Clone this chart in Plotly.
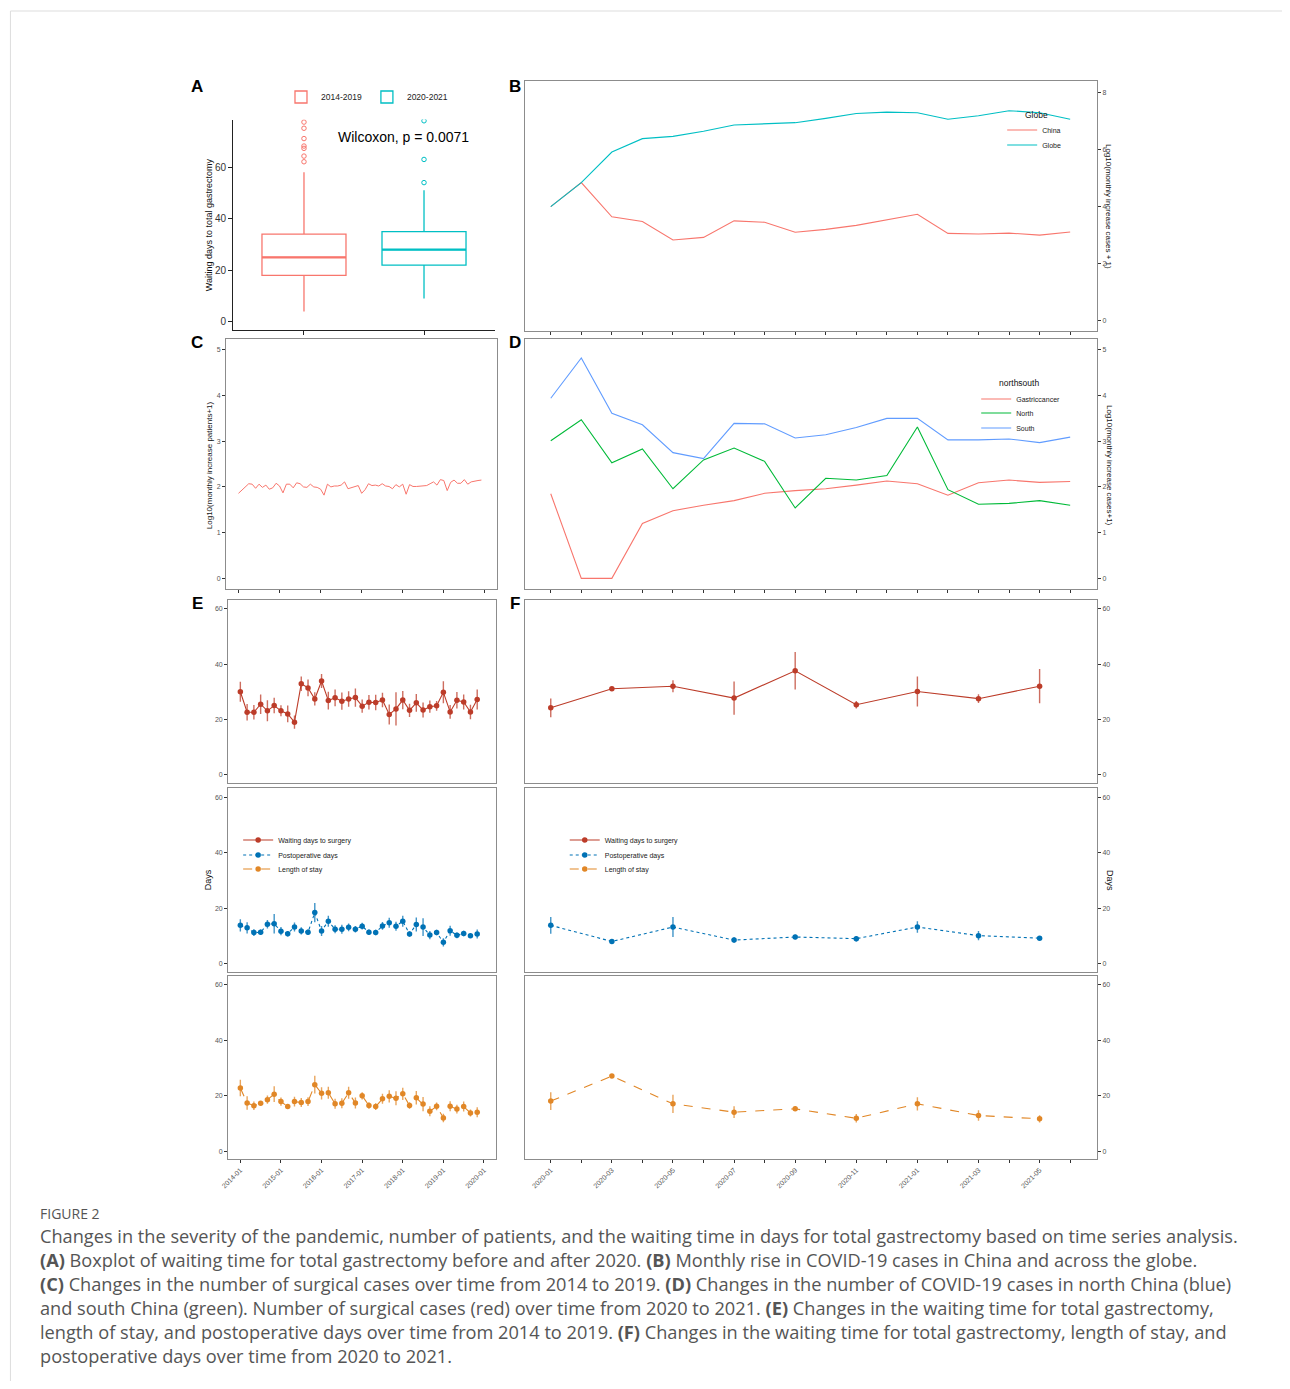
import plotly.graph_objects as go

OFF = 8  # default page body margin
W, H = 1290 - 2 * OFF, 1389 - 2 * OFF
def fx(x):
    xp = (x - 7.6) / 0.995
    return (xp - OFF) / W
def fy(y): return 1 - (y - OFF) / H

# ---------------- DATA ----------------
box_groups = ["2014-2019", "2020-2021"]
box_q1 = [18, 22]
box_median = [25, 28]
box_q3 = [34, 35]
box_lower = [4, 9]
box_upper = [58, 51]
outliers_2014_2019 = [62.1, 64.3, 67.3, 68.2, 71.1, 75.1, 77.5]
outliers_2020_2021 = [54, 63, 78]

covid_month_labels = ["2020-01", "2020-02", "2020-03", "2020-04", "2020-05", "2020-06",
                      "2020-07", "2020-08", "2020-09", "2020-10", "2020-11", "2020-12",
                      "2021-01", "2021-02", "2021-03", "2021-04", "2021-05", "2021-06"]
covid_china = [4.00, 4.84, 3.64, 3.48, 2.83, 2.92, 3.50, 3.45, 3.10, 3.20, 3.34, 3.53,
               3.73, 3.06, 3.04, 3.07, 3.00, 3.11]
covid_globe = [4.00, 4.84, 5.91, 6.38, 6.46, 6.64, 6.86, 6.90, 6.94, 7.09, 7.26, 7.31,
               7.29, 7.06, 7.18, 7.36, 7.29, 7.06]

year_tick_labels = ["2014-01", "2015-01", "2016-01", "2017-01", "2018-01", "2019-01", "2020-01"]
monthly_patients_log = [1.86, 1.93, 2.00, 2.07, 2.06, 1.97, 2.06, 1.99, 2.04, 1.95, 1.98, 2.08,
                        2.02, 1.87, 2.06, 2.06, 1.98, 2.09, 2.07, 2.00, 1.99, 2.06, 2.00, 1.99,
                        1.95, 1.82, 2.06, 2.00, 2.02, 2.02, 2.04, 2.11, 1.96, 1.98, 2.00, 2.03,
                        1.86, 1.94, 2.07, 2.03, 2.04, 2.02, 2.07, 2.02, 2.01, 1.96, 2.05, 2.00,
                        2.06, 1.84, 2.05, 2.01, 2.01, 2.02, 2.02, 2.03, 2.07, 2.11, 2.04, 2.16,
                        2.14, 1.92, 2.10, 2.15, 2.08, 2.08, 2.16, 2.06, 2.11, 2.13, 2.14, 2.15]

ns_gastric = [1.85, 0.00, 0.00, 1.20, 1.48, 1.60, 1.70, 1.86, 1.92, 1.96, 2.04, 2.13,
              2.07, 1.82, 2.09, 2.15, 2.10, 2.12]
ns_north = [3.01, 3.47, 2.53, 2.83, 1.96, 2.59, 2.85, 2.56, 1.54, 2.19, 2.15, 2.25,
            3.31, 1.94, 1.62, 1.64, 1.70, 1.60]
ns_south = [3.94, 4.82, 3.61, 3.36, 2.75, 2.62, 3.39, 3.38, 3.07, 3.14, 3.30, 3.50,
            3.50, 3.03, 3.03, 3.05, 2.97, 3.09]

# E: bimonthly 2014-01 .. 2019-11
e_wait = [30.0, 22.6, 22.6, 25.5, 23.1, 25.0, 23.1, 22.0, 19.0, 32.9, 31.4, 27.4,
          33.9, 26.8, 27.8, 26.6, 27.4, 27.9, 24.8, 26.2, 26.1, 27.0, 21.8, 23.8,
          27.0, 23.3, 26.0, 23.4, 24.6, 24.9, 29.8, 22.7, 26.9, 26.3, 22.7, 27.2]
e_wait_err = [3.6, 3.0, 2.6, 3.5, 3.8, 2.8, 2.0, 3.0, 2.4, 2.6, 3.0, 2.4,
              2.5, 3.2, 3.0, 3.1, 2.8, 3.3, 2.4, 2.6, 2.8, 2.6, 3.6, 6.0,
              3.3, 2.4, 3.2, 2.7, 2.2, 1.8, 4.0, 2.5, 3.0, 2.7, 2.6, 3.6]
e_post = [13.8, 12.9, 11.2, 11.3, 14.2, 14.4, 11.7, 10.8, 13.2, 11.8, 11.3, 18.4,
          11.8, 15.3, 12.4, 12.4, 13.1, 12.4, 13.5, 11.3, 11.2, 13.6, 14.7, 13.5,
          15.3, 10.7, 14.1, 13.2, 10.3, 11.2, 7.7, 11.9, 10.2, 10.9, 10.1, 10.7]
e_post_err = [2.2, 2.0, 1.2, 1.0, 1.5, 3.5, 1.5, 1.0, 1.6, 1.3, 1.0, 3.5,
              1.8, 2.0, 1.4, 1.6, 1.4, 1.2, 1.2, 1.0, 1.0, 1.4, 1.8, 1.6,
              2.0, 1.0, 2.5, 3.2, 1.5, 1.0, 1.5, 1.8, 1.0, 1.0, 0.8, 1.6]
e_stay = [22.8, 17.4, 16.4, 17.3, 18.6, 20.6, 17.9, 16.1, 17.9, 17.6, 17.9, 24.0,
          20.9, 21.1, 17.1, 17.3, 21.1, 17.4, 20.0, 16.5, 16.1, 18.9, 19.8, 19.1,
          20.7, 16.5, 19.3, 17.0, 14.4, 16.2, 12.0, 16.2, 15.2, 16.1, 13.8, 14.1]
e_stay_err = [3.0, 2.4, 1.5, 0.8, 1.5, 2.8, 1.5, 0.8, 1.8, 1.6, 1.6, 3.2,
              2.2, 2.2, 1.8, 1.8, 2.2, 2.0, 1.3, 1.2, 1.2, 1.8, 2.2, 2.5,
              2.2, 1.2, 2.4, 2.6, 1.8, 1.4, 1.5, 1.8, 1.6, 1.8, 1.3, 1.8]

# F: bimonthly 2020-01 .. 2021-05
f_wait = [24.2, 31.1, 32.0, 27.7, 37.6, 25.3, 30.1, 27.5, 32.0]
f_wait_err = [3.4, 0.5, 2.2, 6.0, 6.8, 1.4, 5.4, 1.6, 6.2]
f_post = [13.8, 8.0, 13.2, 8.5, 9.6, 9.0, 13.2, 10.1, 9.2]
f_post_err = [3.0, 0.5, 3.6, 1.0, 0.8, 1.0, 2.1, 1.7, 0.5]
f_stay = [18.1, 27.1, 17.1, 14.1, 15.3, 11.9, 17.1, 12.9, 11.7]
f_stay_err = [3.2, 0.3, 3.3, 2.1, 0.8, 1.5, 2.4, 1.9, 1.3]

series_names = ["Waiting days to surgery", "Postoperative days", "Length of stay"]

# ---------------- STYLE ----------------
FONT = "Liberation Sans, Arial, Helvetica, sans-serif"
RED, TEAL, GREEN, BLUE = "#F8766D", "#00BFC4", "#00BA38", "#619CFF"
NRED, NBLUE, NORANGE = "#BC3C29", "#0072B5", "#E18727"
FRAME = "#8c8c8c"
TICKC = "#555555"
BOX_W = 0.7

e_x = list(range(0, 72, 2))
f_x = list(range(0, 18, 2))
c_x = list(range(72))
cov_x = list(range(18))

fig = go.Figure()

# ---- Panel A ----
for i, (g, col) in enumerate(zip(box_groups, [RED, TEAL])):
    fig.add_trace(go.Box(
        x=[i], q1=[box_q1[i]], median=[box_median[i]], q3=[box_q3[i]],
        lowerfence=[box_lower[i]], upperfence=[box_upper[i]],
        name=g, width=BOX_W, whiskerwidth=0, fillcolor="rgba(255,255,255,0)",
        line=dict(color=col, width=1.3), boxpoints=False,
        xaxis="x", yaxis="y", legend="legend", showlegend=True))
    # thicker median bar (ggplot style)
    fig.add_trace(go.Scatter(x=[i - BOX_W / 2, i + BOX_W / 2], y=[box_median[i]] * 2, mode="lines",
                             line=dict(color=col, width=2.2), xaxis="x", yaxis="y",
                             showlegend=False, hoverinfo="skip"))
fig.add_trace(go.Scatter(x=[0] * len(outliers_2014_2019), y=outliers_2014_2019, mode="markers",
                         marker=dict(symbol="circle-open", size=4.5, color=RED, line=dict(width=1)),
                         xaxis="x", yaxis="y", showlegend=False, cliponaxis=True))
fig.add_trace(go.Scatter(x=[1] * len(outliers_2020_2021), y=outliers_2020_2021, mode="markers",
                         marker=dict(symbol="circle-open", size=4.5, color=TEAL, line=dict(width=1)),
                         xaxis="x", yaxis="y", showlegend=False, cliponaxis=True))

# ---- Panel B ----
fig.add_trace(go.Scatter(x=cov_x, y=covid_china, mode="lines", name="China",
                         line=dict(color=RED, width=1.1), xaxis="x2", yaxis="y2", legend="legend11"))
fig.add_trace(go.Scatter(x=cov_x, y=covid_globe, mode="lines", name="Globe",
                         line=dict(color=TEAL, width=1.1), xaxis="x2", yaxis="y2", legend="legend12"))

# ---- Panel C ----
fig.add_trace(go.Scatter(x=c_x, y=monthly_patients_log, mode="lines", showlegend=False,
                         line=dict(color=RED, width=1.0), xaxis="x3", yaxis="y3"))

# ---- Panel D ----
for vals, nm, col, lg in [(ns_gastric, "Gastriccancer", RED, "legend13"),
                          (ns_north, "North", GREEN, "legend14"),
                          (ns_south, "South", BLUE, "legend15")]:
    fig.add_trace(go.Scatter(x=cov_x, y=vals, mode="lines", name=nm,
                             line=dict(color=col, width=1.1), xaxis="x4", yaxis="y4", legend=lg))

# ---- Panels E / F ----
def add_err(xv, yv, err, col, dash, ax, ay, name, lg):
    r, g, b = int(col[1:3], 16), int(col[3:5], 16), int(col[5:7], 16)
    fig.add_trace(go.Scatter(
        x=xv, y=yv, mode="lines+markers", name=name,
        line=dict(color=col, width=1.1, dash=dash),
        marker=dict(color=col, size=5.5),
        error_y=dict(type="data", array=err, visible=True, width=0, thickness=1.4,
                     color=f"rgba({r},{g},{b},0.75)"),
        xaxis=ax, yaxis=ay, legend=lg))

add_err(e_x, e_wait, e_wait_err, NRED, "solid", "x5", "y5", series_names[0], "legend5")
add_err(e_x, e_post, e_post_err, NBLUE, "dot", "x6", "y6", series_names[1], "legend6")
add_err(e_x, e_stay, e_stay_err, NORANGE, "dash", "x7", "y7", series_names[2], "legend7")
add_err(f_x, f_wait, f_wait_err, NRED, "solid", "x8", "y8", series_names[0], "legend8")
add_err(f_x, f_post, f_post_err, NBLUE, "dot", "x9", "y9", series_names[1], "legend9")
add_err(f_x, f_stay, f_stay_err, NORANGE, "dash", "x10", "y10", series_names[2], "legend10")

# ---------------- AXES ----------------
def framed(dom, rng, **kw):
    d = dict(domain=dom, range=rng, showgrid=False, zeroline=False, showline=True,
             linecolor=FRAME, linewidth=1, mirror=True, ticks="outside", ticklen=3,
             tickcolor="#333333", tickwidth=0.8,
             tickfont=dict(size=7, color=TICKC, family=FONT))
    d.update(kw)
    return d

lay = {}
# A
lay["xaxis"] = dict(domain=[fx(233), fx(495)], range=[-0.59, 1.59], anchor="y",
                    showgrid=False, zeroline=False, showline=True, linecolor="#222", linewidth=1,
                    ticks="outside", ticklen=4, tickvals=[0, 1], showticklabels=False, tickcolor="#222")
lay["yaxis"] = dict(domain=[fy(330), fy(119.5)], range=[-3.2, 78.5], anchor="x",
                    showgrid=False, zeroline=False, showline=True, linecolor="#222", linewidth=1,
                    ticks="outside", ticklen=4, tickvals=[0, 20, 40, 60], tickcolor="#222",
                    tickfont=dict(size=10, color="#333", family=FONT))

left_x = [fx(226), fx(497)]
left_xe = [fx(228), fx(496)]
right_x = [fx(525), fx(1098)]
cov_rng = [-0.85, 17.88]
mon_rng = [-3.6, 75.5]

lay["xaxis2"] = framed(right_x, cov_rng, anchor="y2", tickvals=cov_x, showticklabels=False)
lay["yaxis2"] = framed([fy(331), fy(81)], [-0.36, 8.40], anchor="x2", side="right", tickvals=[0, 2, 4, 6, 8])
lay["xaxis3"] = framed(left_x, mon_rng, anchor="y3", tickvals=list(range(0, 73, 12)), showticklabels=False)
lay["yaxis3"] = framed([fy(589.3), fy(339.3)], [-0.24, 5.23], anchor="x3", tickvals=[0, 1, 2, 3, 4, 5])
lay["xaxis4"] = framed(right_x, cov_rng, anchor="y4", tickvals=cov_x, showticklabels=False)
lay["yaxis4"] = framed([fy(589.3), fy(339.3)], [-0.24, 5.23], anchor="x4", side="right",
                       tickvals=[0, 1, 2, 3, 4, 5])

rows = [(600, 782.7), (788.3, 971.7), (976, 1159.3)]
yr = [-2.9, 63.2]
for k, (top, bot) in enumerate(rows):
    ex, ey = 5 + k, 5 + k
    fxn, fyn = 8 + k, 8 + k
    last = (k == 2)
    if last:
        lay[f"xaxis{ex}"] = framed(left_xe, mon_rng, anchor=f"y{ey}", tickvals=list(range(0, 73, 12)),
                                   ticktext=year_tick_labels, tickangle=-45)
        lay[f"xaxis{fxn}"] = framed(right_x, cov_rng, anchor=f"y{fyn}", tickvals=cov_x,
                                    ticktext=[lab if i % 2 == 0 else "" for i, lab in enumerate(covid_month_labels)],
                                    tickangle=-45)
    else:
        lay[f"xaxis{ex}"] = framed(left_xe, mon_rng, anchor=f"y{ey}", ticks="", showticklabels=False)
        lay[f"xaxis{fxn}"] = framed(right_x, cov_rng, anchor=f"y{fyn}", ticks="", showticklabels=False)
    lay[f"yaxis{ey}"] = framed([fy(bot), fy(top)], yr, anchor=f"x{ex}", tickvals=[0, 20, 40, 60])
    lay[f"yaxis{fyn}"] = framed([fy(bot), fy(top)], yr, anchor=f"x{fxn}", side="right",
                                tickvals=[0, 20, 40, 60])

# ---------------- LEGENDS ----------------
def single_legend(x_text, y, size=7):
    return dict(x=fx(x_text - 40), y=fy(y), xanchor="left", yanchor="middle",
                bgcolor="rgba(0,0,0,0)", borderwidth=0, itemwidth=30,
                font=dict(size=size, color="#222", family=FONT), tracegroupgap=0)

lay["legend"] = dict(orientation="h", x=fx(367), y=fy(97), xanchor="center", yanchor="middle",
                     bgcolor="rgba(0,0,0,0)", font=dict(size=8.5, color="#222", family=FONT),
                     itemwidth=30)
lay["legend5"] = single_legend(278, 840)
lay["legend6"] = single_legend(278, 855)
lay["legend7"] = single_legend(278, 869)
lay["legend8"] = single_legend(605, 840)
lay["legend9"] = single_legend(605, 855)
lay["legend10"] = single_legend(605, 869)
lay["legend11"] = single_legend(1043, 130)
lay["legend12"] = single_legend(1043, 145)
lay["legend13"] = single_legend(1017, 399)
lay["legend14"] = single_legend(1017, 413)
lay["legend15"] = single_legend(1017, 428)

# ---------------- ANNOTATIONS ----------------
ann = []
def text(x, y, s, size=8, color="#111", angle=0, xanchor="center", bold=False, family=FONT):
    ann.append(dict(x=fx(x), y=fy(y), xref="paper", yref="paper", text=(f"<b>{s}</b>" if bold else s),
                    showarrow=False, font=dict(size=size, color=color, family=family),
                    textangle=angle, xanchor=xanchor, yanchor="middle"))

for lab, x, y in [("A", 197, 86), ("B", 515, 86), ("C", 197, 342), ("D", 515, 342), ("E", 197, 603), ("F", 515, 603)]:
    text(x, y, lab, size=17, color="#000", bold=True)

text(404, 137, "Wilcoxon, p = 0.0071", size=14, color="#000")
text(209, 225, "Waiting days to total gastrectomy", size=9, angle=-90)
text(1110, 206, "Log10(monthly increase cases + 1)", size=8, angle=90)
text(210, 465, "Log10(monthly increase patients+1)", size=8, angle=-90)
text(1110, 465, "Log10(monthly increase cases+1)", size=8, angle=90)
text(208, 880, "Days", size=9, angle=-90)
text(1111, 880, "Days", size=9, angle=90)
text(1024, 115, "Globe", size=8.5, xanchor="left")
text(998, 383, "northsouth", size=8.5, xanchor="left")

CAP = "Open Sans, Noto Sans, sans-serif"
text(38, 1213, "FIGURE 2", size=14, color="#555", xanchor="left", family=CAP)
cap_lines = [
    "Changes in the severity of the pandemic, number of patients, and the waiting time in days for total gastrectomy based on time series analysis.",
    "<b>(A)</b> Boxplot of waiting time for total gastrectomy before and after 2020. <b>(B)</b> Monthly rise in COVID-19 cases in China and across the globe.",
    "<b>(C)</b> Changes in the number of surgical cases over time from 2014 to 2019. <b>(D)</b> Changes in the number of COVID-19 cases in north China (blue)",
    "and south China (green). Number of surgical cases (red) over time from 2020 to 2021. <b>(E)</b> Changes in the waiting time for total gastrectomy,",
    "length of stay, and postoperative days over time from 2014 to 2019. <b>(F)</b> Changes in the waiting time for total gastrectomy, length of stay, and",
    "postoperative days over time from 2020 to 2021.",
]
for i, line in enumerate(cap_lines):
    text(38, 1236 + 24 * i, line, size=18.2, color="#555", xanchor="left", family=CAP)

lay["annotations"] = ann
lay["shapes"] = [dict(type="rect", xref="paper", yref="paper", x0=fx(10), y0=-0.05, x1=1.05, y1=fy(11),
                      line=dict(color="#dddddd", width=1), layer="below")]

fig.update_layout(**lay)
fig.update_layout(width=W, height=H, margin=dict(l=0, r=0, t=0, b=0),
                  paper_bgcolor="white", plot_bgcolor="white",
                  font=dict(family=FONT, size=8, color="#222"))

fig.write_html("out.html")
